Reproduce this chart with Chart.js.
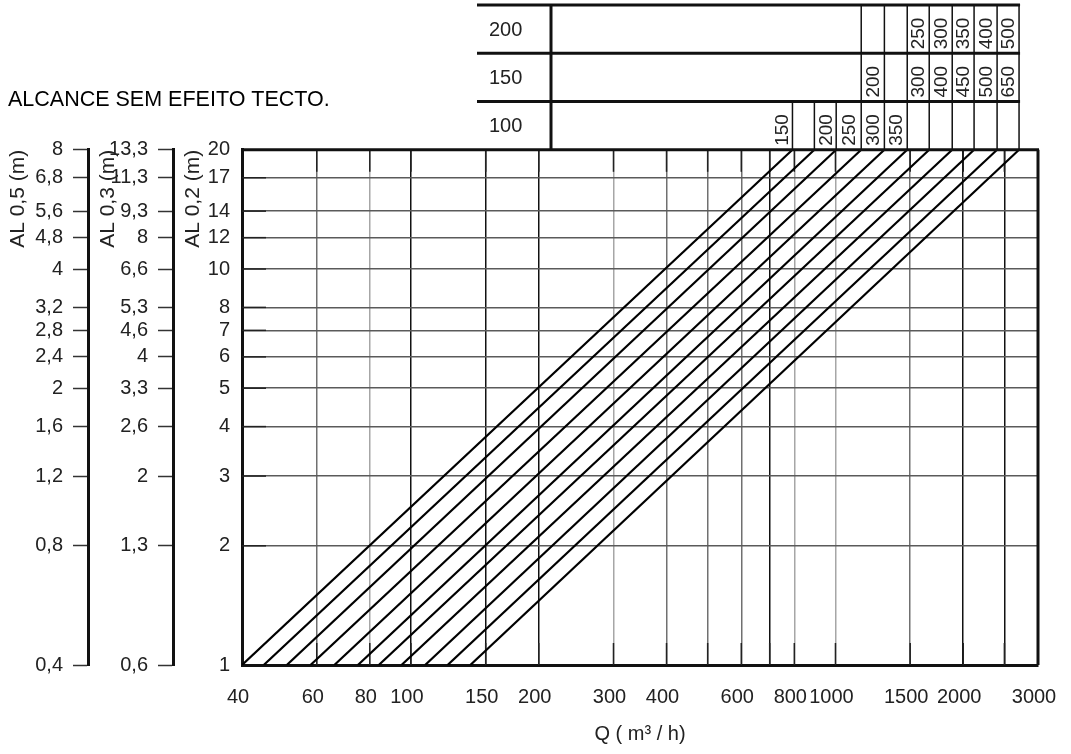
<!DOCTYPE html>
<html>
<head>
<meta charset="utf-8">
<title>Alcance sem efeito tecto</title>
<script src="https://cdn.jsdelivr.net/npm/chart.js@4.4.1/dist/chart.umd.min.js"></script>
<style>
  html, body { margin: 0; padding: 0; background: #fff; }
  #wrap { width: 1071px; height: 754px; }
</style>
</head>
<body>
<div id="wrap"><canvas id="chart" width="1071" height="754"></canvas></div>
<script>
// Q (m3/h) where each throw line starts (AL 0,2 = 1 m) and ends (AL 0,2 = 20 m)
const lineStartQ = [40, 45, 51, 58, 66, 75, 84, 95, 108, 122, 138];
const lineEndQ = [792, 892, 1004, 1150, 1304, 1476, 1663, 1884, 2121, 2403, 2707];

// x axis: grid positions and the ones that carry a label
const xGridQ = [40, 60, 80, 100, 150, 200, 300, 400, 500, 600, 700, 800, 1000, 1500, 2000, 2500, 3000];
const xLabelQ = [40, 60, 80, 100, 150, 200, 300, 400, 600, 800, 1000, 1500, 2000, 3000];

// the three left axes share tick positions, each has its own labels
const yTicks = [1, 2, 3, 4, 5, 6, 7, 8, 10, 12, 14, 17, 20];
const yLabels02 = ['1', '2', '3', '4', '5', '6', '7', '8', '10', '12', '14', '17', '20'];
const yLabels03 = ['0,6', '1,3', '2', '2,6', '3,3', '4', '4,6', '5,3', '6,6', '8', '9,3', '11,3', '13,3'];
const yLabels05 = ['0,4', '0,8', '1,2', '1,6', '2', '2,4', '2,8', '3,2', '4', '4,8', '5,6', '6,8', '8'];

// table above the chart: one cell label per line end (null = empty)
const tableRows = ['200', '150', '100'];
const row200 = [null, null, null, null, null, null, '250', '300', '350', '400', '500'];
const row150 = [null, null, null, null, '200', null, '300', '400', '450', '500', '650'];
const row100 = ['150', null, '200', '250', '300', '350', null, null, null, null, null];
const rowCells = [row200, row150, row100];
const rowFirstCol = [3, 3, 0];

const FONT = '"Liberation Sans", Arial, Helvetica, sans-serif';
Chart.defaults.font.family = FONT;
Chart.defaults.color = '#222';

function seg(ctx, x1, y1, x2, y2) {
    ctx.beginPath();
    ctx.moveTo(x1, y1);
    ctx.lineTo(x2, y2);
    ctx.stroke();
}

// inner tick stubs, frame and the nozzle table
const extras = {
    id: 'extras',
    beforeDatasetsDraw(chart) {
        const { ctx, chartArea: a, scales: { x, y } } = chart;
        ctx.save();
        ctx.strokeStyle = '#222';
        ctx.lineWidth = 1.5;
        xGridQ.slice(1, -1).forEach(q => {
            const px = x.getPixelForValue(q);
            seg(ctx, px, a.bottom, px, a.bottom - 22);
            seg(ctx, px, a.top, px, a.top + 22);
        });
        yTicks.slice(1, -1).forEach(v => {
            const py = y.getPixelForValue(v);
            seg(ctx, a.left, py, a.left + 24, py);
        });
        ctx.restore();
    },
    afterDraw(chart) {
        const { ctx, chartArea: a, scales: { x } } = chart;
        ctx.save();
        ctx.strokeStyle = '#111';
        ctx.lineWidth = 3;
        seg(ctx, a.left - 1, a.top, a.right + 1, a.top);
        seg(ctx, a.right, a.top, a.right, a.bottom);

        // table
        const tableLeft = 477;
        const labelCol = 551;
        const top = 5;
        const rowH = (a.top - top) / 3;
        const cols = lineEndQ.map(q => x.getPixelForValue(q));
        const right = cols[cols.length - 1];

        ctx.lineWidth = 3;
        for (let r = 0; r < 3; r++) {
            const yy = top + r * rowH;
            seg(ctx, tableLeft, yy, right + 1, yy);
        }
        seg(ctx, labelCol, top - 1, labelCol, a.top);

        ctx.fillStyle = '#222';
        rowCells.forEach((cells, r) => {
            const y0 = top + r * rowH;
            const y1 = y0 + rowH;

            ctx.font = '20px ' + FONT;
            ctx.textAlign = 'left';
            ctx.textBaseline = 'middle';
            ctx.fillText(tableRows[r], tableLeft + 12, (y0 + y1) / 2 + 1);

            ctx.lineWidth = 1.5;
            for (let k = rowFirstCol[r]; k < cols.length; k++) {
                seg(ctx, cols[k], y0, cols[k], y1);
            }
            ctx.font = '19px ' + FONT;
            cells.forEach((txt, k) => {
                if (!txt) return;
                const cx = k > 0 ? (cols[k - 1] + cols[k]) / 2 : cols[k] - 11;
                ctx.save();
                ctx.translate(cx + 1, y1 - 4);
                ctx.rotate(-Math.PI / 2);
                ctx.textAlign = 'left';
                ctx.textBaseline = 'middle';
                ctx.fillText(txt, 0, 0);
                ctx.restore();
            });
        });
        ctx.restore();
    }
};

function sideAxis(labels, title, weight, width, titlePad) {
    return {
        type: 'logarithmic',
        position: 'left',
        min: 1,
        max: 20,
        weight: weight,
        afterBuildTicks: s => { s.ticks = yTicks.map(v => ({ value: v })); },
        afterFit: s => { s.width = width; },
        ticks: {
            autoSkip: false,
            padding: 10,
            color: '#222',
            font: { size: 20 },
            callback: v => labels[yTicks.indexOf(v)]
        },
        grid: {
            drawOnChartArea: false,
            drawTicks: true,
            tickLength: 15,
            tickColor: '#333',
            tickWidth: 1.5
        },
        border: { display: true, color: '#111', width: 3 },
        title: {
            display: true,
            text: title,
            align: 'end',
            color: '#222',
            font: { size: 21, lineHeight: 1 },
            padding: { top: titlePad, bottom: 0 }
        }
    };
}

const datasets = lineStartQ.map((q0, i) => ({
    data: [{ x: q0, y: 1 }, { x: lineEndQ[i], y: 20 }],
    showLine: true,
    borderColor: '#000',
    borderWidth: 2.2,
    pointRadius: 0,
    xAxisID: 'x',
    yAxisID: 'y'
}));

const mainY = sideAxis(yLabels02, 'AL 0,2 (m)', 0, 69, 10);
mainY.ticks.padding = 12;
mainY.grid = {
    drawOnChartArea: true,
    drawTicks: false,
    color: '#5a5a5a',
    lineWidth: 1.5
};

new Chart(document.getElementById('chart'), {
    type: 'scatter',
    data: { datasets },
    options: {
        responsive: false,
        animation: false,
        layout: { padding: { left: 8, right: 33, top: 0, bottom: 0 } },
        plugins: {
            legend: { display: false },
            tooltip: { enabled: false },
            title: {
                display: true,
                text: 'ALCANCE SEM EFEITO TECTO.',
                align: 'start',
                color: '#000',
                font: { size: 21.5, weight: 'normal', lineHeight: 1.2 },
                padding: { top: 87, bottom: 37 }
            }
        },
        scales: {
            x: {
                type: 'logarithmic',
                min: 40,
                max: 3000,
                afterBuildTicks: s => { s.ticks = xGridQ.map(v => ({ value: v })); },
                afterFit: s => {
                    s.height = 89;
                    s.paddingLeft = 0;
                    s.paddingRight = 0;
                },
                ticks: {
                    autoSkip: false,
                    maxRotation: 0,
                    padding: 20,
                    labelOffset: -4,
                    color: '#222',
                    font: { size: 20 },
                    callback: v => (xLabelQ.includes(v) ? String(v) : '')
                },
                grid: {
                    drawTicks: false,
                    lineWidth: 1.5,
                    color: c => {
                        const v = c.tick ? c.tick.value : 0;
                        if ([100, 150, 200, 700, 2000, 2500].includes(v)) return '#111';
                        if ([80, 300, 800, 1000].includes(v)) return '#a6a6a6';
                        return '#707070';
                    }
                },
                border: { display: true, color: '#111', width: 3 },
                title: {
                    display: true,
                    text: 'Q ( m³ / h)',
                    color: '#222',
                    font: { size: 20 },
                    padding: { top: 0, bottom: 8 }
                }
            },
            y05: sideAxis(yLabels05, 'AL 0,5 (m)', 2, 80, 0),
            y03: sideAxis(yLabels03, 'AL 0,3 (m)', 1, 85, 10),
            y: mainY
        }
    },
    plugins: [extras]
});
</script>
</body>
</html>
